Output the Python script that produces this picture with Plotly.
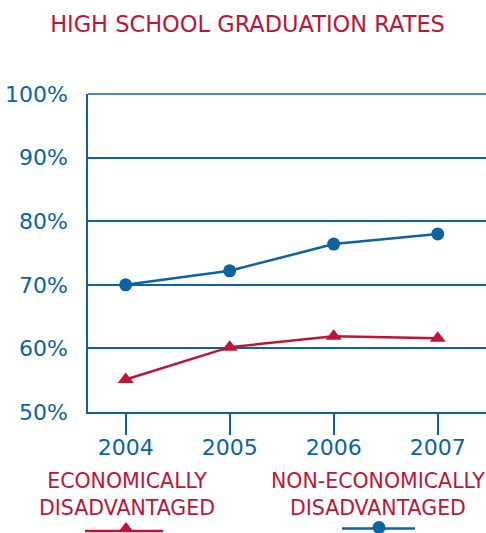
import plotly.graph_objects as go

# Graduation rates by school year (percent)
years = [2004, 2005, 2006, 2007]
econ_disadv = [55.1, 60.2, 61.9, 61.6]
non_econ_disadv = [70.0, 72.2, 76.4, 78.0]
y_ticks = [50, 60, 70, 80, 90, 100]
y_tick_text = ["50%", "60%", "70%", "80%", "90%", "100%"]

BLUE = "#0b64a0"
RED = "#be1438"
FONT = "DejaVu Sans"

W, H = 486, 533
# plot area in pixels
PL, PR, PT, PB = 88, 486, 94, 412


def px(x):
    return x / W


def py(y):
    return 1 - y / H


fig = go.Figure()

fig.add_trace(go.Scatter(
    x=years, y=non_econ_disadv, mode="lines+markers",
    line=dict(color=BLUE, width=2.5),
    marker=dict(symbol="circle", size=13, color=BLUE),
    cliponaxis=False, showlegend=False,
))
fig.add_trace(go.Scatter(
    x=years, y=econ_disadv, mode="lines+markers",
    line=dict(color=RED, width=2.5),
    marker=dict(symbol="triangle-up", size=14, color=RED),
    cliponaxis=False, showlegend=False,
))

fig.update_layout(
    width=W, height=H,
    margin=dict(l=0, r=0, t=0, b=0, autoexpand=False),
    paper_bgcolor="white", plot_bgcolor="white",
    font=dict(family=FONT, color=BLUE),
    title=dict(
        text="HIGH SCHOOL GRADUATION RATES",
        x=px(247.5), y=py(24), xanchor="center", yanchor="middle",
        font=dict(family=FONT, size=22.5, color=RED),
    ),
    xaxis=dict(
        domain=[px(PL), px(PR)],
        range=[2003.638, 2007.464],
        tickvals=years, ticktext=[str(y) for y in years],
        ticks="outside", ticklen=21, tickwidth=1.5, tickcolor=BLUE,
        ticklabelstandoff=-6,
        showgrid=False, zeroline=False, automargin=False,
        showline=True, linecolor=BLUE, linewidth=1.5,
        tickfont=dict(family=FONT, size=22, color=BLUE),
    ),
    yaxis=dict(
        domain=[py(PB), py(PT)],
        range=[50, 100],
        tickvals=y_ticks, ticktext=y_tick_text,
        ticks="", ticklabelstandoff=14,
        showgrid=True, gridcolor=BLUE, gridwidth=1.5,
        zeroline=False, automargin=False,
        showline=True, linecolor=BLUE, linewidth=1.5,
        tickfont=dict(family=FONT, size=22, color=BLUE),
    ),
)

# top gridline along the upper edge of the plot area
fig.add_shape(type="line", xref="paper", yref="paper",
              x0=px(PL), x1=px(PR), y0=py(PT), y1=py(PT),
              line=dict(color=BLUE, width=1.5), layer="below")

# Legend labels
fig.add_annotation(
    text="ECONOMICALLY<br>DISADVANTAGED", xref="paper", yref="paper",
    x=px(127), y=py(494), xanchor="center", yanchor="middle",
    showarrow=False, align="center",
    font=dict(family=FONT, size=20.5, color=RED),
)
fig.add_annotation(
    text="NON-ECONOMICALLY<br>DISADVANTAGED", xref="paper", yref="paper",
    x=px(378), y=py(494), xanchor="center", yanchor="middle",
    showarrow=False, align="center",
    font=dict(family=FONT, size=20.5, color=RED),
)

# Legend swatches
fig.add_shape(type="line", xref="paper", yref="paper",
              x0=px(85), x1=px(163), y0=py(531), y1=py(531),
              line=dict(color=RED, width=2.5))
fig.add_shape(type="path", xref="paper", yref="paper",
              path=f"M {px(119)},{py(531)} L {px(133)},{py(531)} L {px(126)},{py(522)} Z",
              fillcolor=RED, line=dict(width=0))
fig.add_shape(type="line", xref="paper", yref="paper",
              x0=px(342), x1=px(415), y0=py(528.5), y1=py(528.5),
              line=dict(color=BLUE, width=2.5))
fig.add_shape(type="circle", xref="paper", yref="paper",
              x0=px(372.5), x1=px(385.5), y0=py(534), y1=py(521),
              fillcolor=BLUE, line=dict(width=0))

fig.write_html("out.html")
